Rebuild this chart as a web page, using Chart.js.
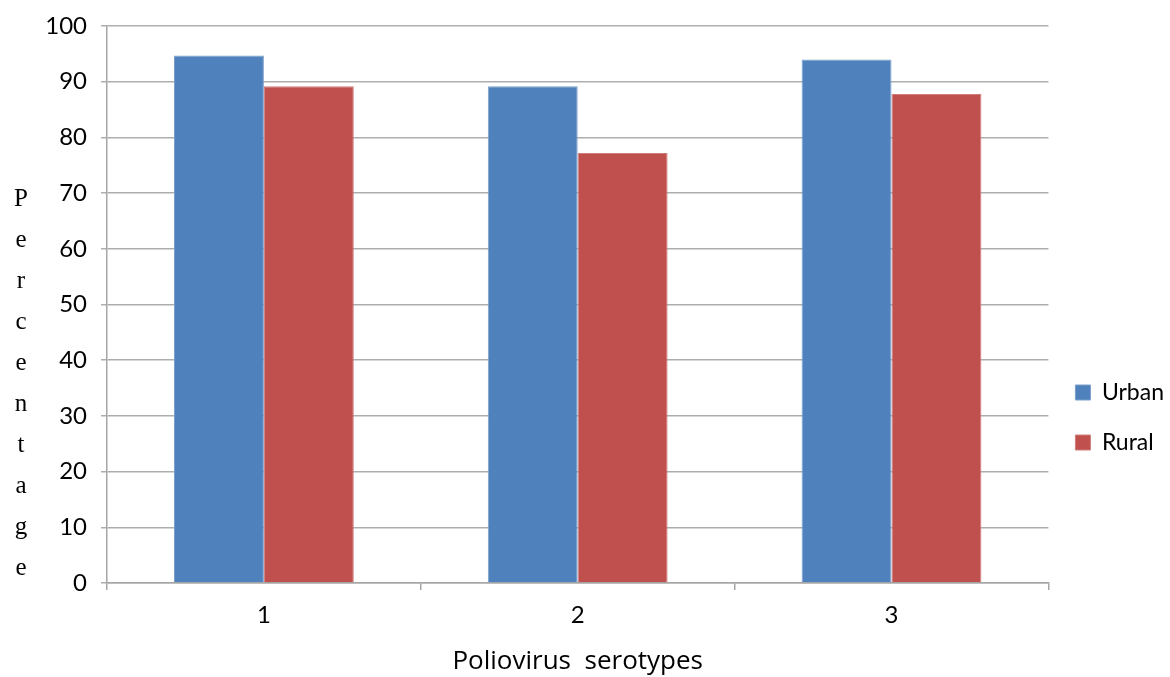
<!DOCTYPE html>
<html>
<head>
<meta charset="utf-8">
<script src="https://cdn.jsdelivr.net/npm/chart.js@4/dist/chart.umd.min.js"></script>
<style>
  html, body { margin: 0; padding: 0; background: #fff; }
  #wrap { width: 1170px; height: 677px; position: relative; }
</style>
</head>
<body>
<div id="wrap"><canvas id="c" width="1170" height="677"></canvas></div>
<script>
// Serotype categories and seropositivity percentages by area
const categories = ['1', '2', '3'];
const urbanValues = [94.7, 89.2, 94.0];
const ruralValues = [89.2, 77.2, 87.8];
const yTicks = [0, 10, 20, 30, 40, 50, 60, 70, 80, 90, 100];
const yTitle = 'Percentage';
const xTitle = 'Poliovirus  serotypes';

const FONT = 'Lato, "Liberation Sans", sans-serif';

// Vertical stacked letters for the y-axis title
const stackedTitle = {
  id: 'stackedTitle',
  afterDraw(chart) {
    const ctx = chart.ctx;
    ctx.save();
    ctx.font = '25px "Liberation Serif", serif';
    ctx.fillStyle = '#000';
    ctx.textAlign = 'center';
    ctx.textBaseline = 'middle';
    const letters = yTitle.split('');
    const step = 41.1;
    const start = 199;
    letters.forEach((ch, i) => ctx.fillText(ch, 21, start + i * step));
    ctx.restore();
  }
};

// Legend block sits in the lower half of the right margin
const lowerLegend = {
  id: 'lowerLegend',
  afterLayout(chart) {
    const lg = chart.legend;
    if (!lg) return;
    const shift = 66;
    lg.top += shift;
    lg.bottom += shift;
  }
};

new Chart(document.getElementById('c'), {
  type: 'bar',
  data: {
    labels: categories,
    datasets: [
      { label: 'Urban', data: urbanValues, backgroundColor: '#4F81BD', borderColor: '#7C9FCB', borderWidth: 1 },
      { label: 'Rural', data: ruralValues, backgroundColor: '#C0504D', borderColor: '#D07E7B', borderWidth: 1 }
    ]
  },
  options: {
    responsive: false,
    animation: false,
    layout: { padding: { top: 26, right: -4, left: 0, bottom: 0 } },
    datasets: { bar: { categoryPercentage: 0.573, barPercentage: 1.0 } },
    plugins: {
      tooltip: { enabled: false },
      legend: {
        position: 'right',
        align: 'center',
        labels: {
          boxWidth: 15, boxHeight: 15, padding: 27,
          color: '#000',
          font: { family: FONT, size: 23 }
        }
      }
    },
    scales: {
      x: {
        grid: { display: true, drawOnChartArea: false, drawTicks: true, tickLength: 7, color: '#A6A6A6', lineWidth: 1.5, offset: true },
        border: { color: '#A6A6A6', width: 1.5 },
        ticks: { color: '#000', font: { family: FONT, size: 24 }, padding: 11 },
        title: { display: true, text: xTitle, color: '#000', font: { family: '"Open Sans", sans-serif', size: 26 }, padding: { top: 5, bottom: 0 } }
      },
      y: {
        min: 0, max: 100,
        afterFit(scale) { scale.width = 107; scale.paddingTop = 0; },
        afterBuildTicks(scale) { scale.ticks = yTicks.map(v => ({ value: v })); },
        grid: { color: '#ADADAD', lineWidth: 1.5, tickLength: 6 },
        border: { color: '#A6A6A6', width: 1.5 },
        ticks: { color: '#000', font: { family: FONT, size: 24 }, padding: 14 }
      }
    }
  },
  plugins: [stackedTitle, lowerLegend]
});
</script>
</body>
</html>
